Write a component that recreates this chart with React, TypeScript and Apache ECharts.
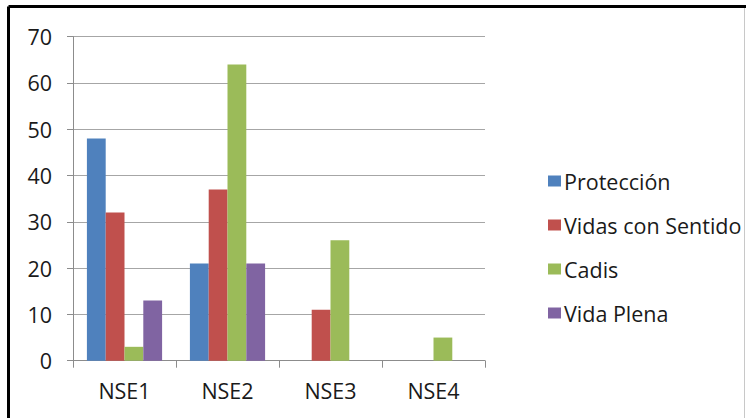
import React, { useEffect, useRef } from "react";
import * as echarts from "echarts";

const categories = ["NSE1", "NSE2", "NSE3", "NSE4"];
const proteccion = [48, 21, 0, 0];
const vidasConSentido = [32, 37, 11, 0];
const cadis = [3, 64, 26, 5];
const vidaPlena = [13, 21, 0, 0];
const yTicks = { min: 0, max: 70, interval: 10 };

const FONT = "'Open Sans', sans-serif";
const TEXT_COLOR = "#1a1a1a";
const FS = 21.5;

export default function App() {
  const ref = useRef<HTMLDivElement>(null);
  useEffect(() => {
    if (!ref.current) return;
    const chart = echarts.init(ref.current, undefined, { renderer: "svg" });
    const mk = (name: string, data: number[], color: string) => ({
      name,
      type: "bar",
      data,
      barGap: "0%",
      barCategoryGap: "27%",
      itemStyle: { color },
    });
    chart.setOption({
      animation: false,
      backgroundColor: "#ffffff",
      textStyle: { fontFamily: FONT },
      grid: { left: 73, right: 261, top: 36.7, bottom: 57.3, containLabel: false },
      xAxis: {
        type: "category",
        data: categories,
        axisLine: { show: true, lineStyle: { color: "#8c8c8c", width: 1 } },
        axisTick: { show: true, alignWithLabel: false, length: 7, lineStyle: { color: "#8c8c8c" } },
        axisLabel: { fontSize: FS, color: TEXT_COLOR, margin: 19, fontFamily: FONT },
        splitLine: { show: false },
      },
      yAxis: {
        type: "value",
        min: yTicks.min,
        max: yTicks.max,
        interval: yTicks.interval,
        axisLine: { show: true, lineStyle: { color: "#8c8c8c", width: 1 } },
        axisTick: { show: true, length: 6, lineStyle: { color: "#8c8c8c" } },
        axisLabel: { fontSize: FS, color: TEXT_COLOR, margin: 21, fontFamily: FONT },
        splitLine: { show: true, lineStyle: { color: "#a6a6a6", width: 1 } },
      },
      legend: {
        orient: "vertical",
        left: 543,
        top: 165,
        itemWidth: 13,
        itemHeight: 11,
        itemGap: 22,
        icon: "rect",
        textStyle: { fontSize: FS, color: TEXT_COLOR, fontFamily: FONT, lineHeight: 21, padding: [0, 0, 0, -2] },
        data: ["Protección", "Vidas con Sentido", "Cadis", "Vida Plena"],
      },
      graphic: [
        { type: "line", shape: { x1: 8.5, y1: 6.5, x2: 746, y2: 6.5 }, style: { stroke: "#000", lineWidth: 3 } },
        { type: "line", shape: { x1: 8.5, y1: 6.5, x2: 8.5, y2: 418 }, style: { stroke: "#000", lineWidth: 3 } },
        { type: "line", shape: { x1: 744.5, y1: 8, x2: 744.5, y2: 418 }, style: { stroke: "#c8c8c8", lineWidth: 1 } },
      ],
      series: [
        mk("Protección", proteccion, "#4F81BD"),
        mk("Vidas con Sentido", vidasConSentido, "#C0504D"),
        mk("Cadis", cadis, "#9BBB59"),
        mk("Vida Plena", vidaPlena, "#8064A2"),
      ],
    });
    return () => chart.dispose();
  }, []);
  return (
    <div
      ref={ref}
      style={{ position: "fixed", left: 0, top: 0, width: 746, height: 418, background: "#fff" }}
    />
  );
}
